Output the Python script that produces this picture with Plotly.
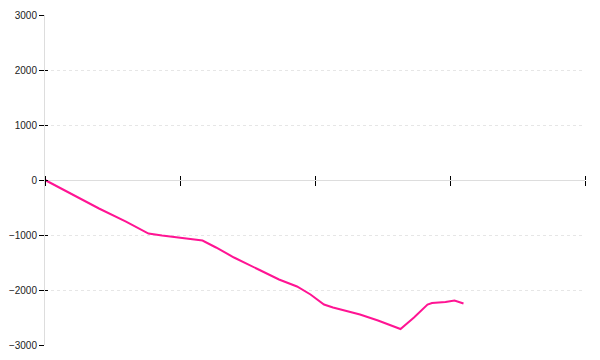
import plotly.graph_objects as go

days = [0, 7, 12, 18, 23, 26, 30, 35, 38, 42, 47, 52, 56, 59, 62, 64, 70, 74, 79, 82, 85, 86, 89, 91, 93]
values = [0, -300, -518, -755, -973, -1009, -1045, -1100, -1227, -1409, -1609, -1809, -1936,
          -2082, -2264, -2318, -2445, -2555, -2709, -2500, -2264, -2236, -2218, -2191, -2245]
x_ticks = [0, 30, 60, 90, 120]
y_ticks = [-3000, -2000, -1000, 0, 1000, 2000, 3000]

fig = go.Figure()
fig.add_trace(go.Scatter(x=days, y=values, mode="lines",
                         line=dict(color="#ff1493", width=2), hoverinfo="skip"))
fig.add_trace(go.Scatter(x=[None], y=[None], xaxis="x2", yaxis="y2", showlegend=False))

fig.update_layout(
    width=600, height=360,
    margin=dict(l=45, r=15, t=15, b=15, autoexpand=False),
    paper_bgcolor="white", plot_bgcolor="white",
    showlegend=False,
    font=dict(family="Liberation Sans, Arial", size=10, color="#222"),
    xaxis=dict(range=[0, 120], tickvals=x_ticks, showticklabels=False, automargin=False,
               ticks="outside", ticklen=5, tickcolor="#000", tickwidth=1,
               showgrid=False, zeroline=False, showline=False,
               anchor="free", position=0.5),
    xaxis2=dict(range=[0, 120], tickvals=x_ticks, showticklabels=False, automargin=False,
                ticks="outside", ticklen=4, tickcolor="#000", tickwidth=1,
                showgrid=False, zeroline=False, showline=False,
                overlaying="x", side="top", anchor="free", position=0.5),
    yaxis=dict(range=[-3000, 3000], tickvals=y_ticks, ticks="outside", ticklen=5, automargin=False,
               tickcolor="#000", tickwidth=1, showline=True, linecolor="#ddd", linewidth=1,
               showgrid=True, gridcolor="#e6e6e6", griddash="dot", gridwidth=1,
               zeroline=True, zerolinecolor="#ddd", zerolinewidth=1),
    yaxis2=dict(range=[-3000, 3000], tickvals=y_ticks, showticklabels=False, automargin=False,
                ticks="inside", ticklen=3, tickcolor="#000", tickwidth=1,
                showgrid=False, zeroline=False, showline=False,
                overlaying="y", side="left", anchor="x"),
)

fig.write_html("out.html")
